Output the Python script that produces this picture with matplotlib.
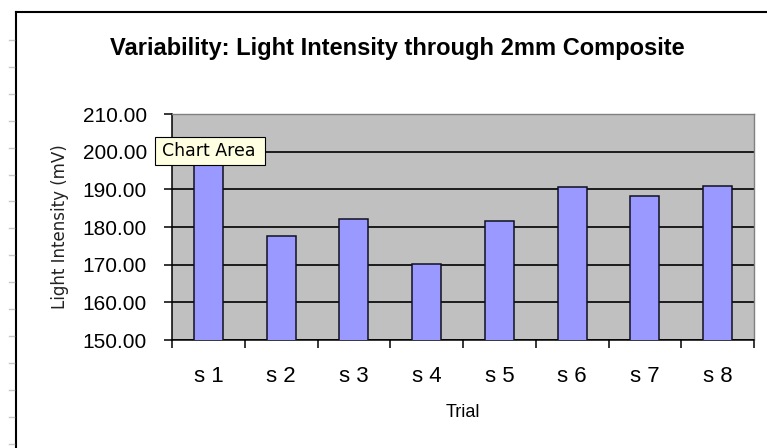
import numpy as np
import matplotlib
matplotlib.use("Agg")
import matplotlib.pyplot as plt
from matplotlib.lines import Line2D
from matplotlib.patches import Rectangle

# Light intensity readings per trial (mV)
trials = ["s 1", "s 2", "s 3", "s 4", "s 5", "s 6", "s 7", "s 8"]
intensity = [200.0, 177.6, 182.0, 170.2, 181.5, 190.5, 188.2, 190.8]

y_ticks = [150, 160, 170, 180, 190, 200, 210]

narrow = ["Liberation Sans Narrow", "Liberation Sans"]

W, H = 767, 448
fig = plt.figure(figsize=(W / 100, H / 100), dpi=100)
fig.patch.set_facecolor("white")

# plot area in pixel terms
left, right, top, bottom = 172, 754, 114, 340
ax = fig.add_axes([left / W, 1 - bottom / H, (right - left) / W, (bottom - top) / H])
ax.set_facecolor("#C0C0C0")

x = np.arange(len(trials))
ax.bar(x, intensity, width=0.4, color="#9999FF", edgecolor="#101020",
       linewidth=1.1, zorder=3)

ax.set_ylim(150, 210)
ax.set_xlim(-0.5, len(trials) - 0.5)
ax.set_yticks(y_ticks)
ax.set_yticklabels([f"{v:.2f}" for v in y_ticks], fontsize=15,
                   family="Liberation Sans")
ax.tick_params(axis="y", direction="out", length=6, width=1.1, pad=12,
               color="black")
ax.yaxis.grid(True, color="black", linewidth=1.2, zorder=1)
ax.set_axisbelow(True)

# labels at category centres, tick marks at category boundaries
ax.set_xticks(x)
ax.set_xticklabels(trials, fontsize=16, family=narrow)
ax.tick_params(axis="x", which="major", length=0, pad=19)
ax.set_xticks(np.arange(len(trials) + 1) - 0.5, minor=True)
ax.tick_params(axis="x", which="minor", direction="out", length=5.5,
               width=1.1, color="black")

for side in ("left", "bottom"):
    ax.spines[side].set_color("black")
    ax.spines[side].set_linewidth(1.1)
for side in ("top", "right"):
    ax.spines[side].set_color("#808080")
    ax.spines[side].set_linewidth(1.0)

ax.set_xlabel("Trial", fontsize=13, family=narrow)
ax.xaxis.set_label_coords(0.5, -0.283)
ax.xaxis.label.set_va("top")
ax.set_ylabel("Light Intensity (mV)", fontsize=12, family="DejaVu Sans",
              color="#222222")
ax.yaxis.set_label_coords(-0.192, 0.5)
ax.yaxis.label.set_va("center")

fig.text(397 / W, 1 - 48 / H, "Variability: Light Intensity through 2mm Composite",
         ha="center", va="center", fontsize=17, fontweight="bold",
         family="Liberation Sans")

# chart area border (left and top edges)
fig.add_artist(Line2D([16 / W, 16 / W], [0, 1 - 12 / H], color="black",
                      linewidth=1.5, transform=fig.transFigure))
fig.add_artist(Line2D([16 / W, 1], [1 - 12 / H, 1 - 12 / H], color="black",
                      linewidth=1.5, transform=fig.transFigure))

# sheet row marks to the left of the chart
for yy in np.arange(40, H, 26.9):
    fig.add_artist(Line2D([9 / W, 14 / W], [1 - yy / H, 1 - yy / H],
                          color="#c8c8c8", linewidth=1.0,
                          transform=fig.transFigure))

# hover tooltip
fig.add_artist(Rectangle((155 / W, 1 - 165 / H), 110 / W, 28 / H,
                         facecolor="#FFFFE1", edgecolor="black",
                         linewidth=0.8, transform=fig.transFigure, zorder=9))
fig.text(209 / W, 1 - 151 / H, "Chart Area", ha="center", va="center",
         fontsize=12.5, family="DejaVu Sans", zorder=10)

fig.savefig("out.png", dpi=100)
